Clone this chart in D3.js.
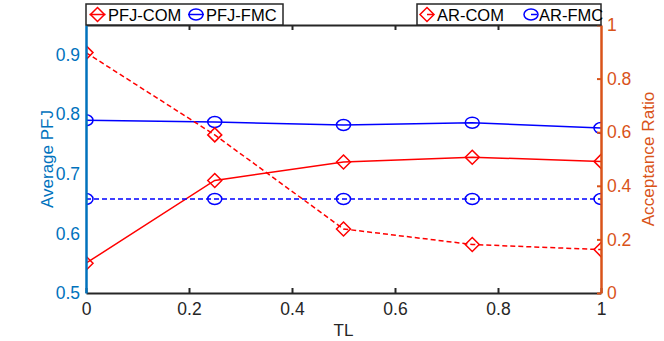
<!DOCTYPE html>
<html>
<head>
<meta charset="utf-8">
<script src="https://cdn.jsdelivr.net/npm/d3@7"></script>
<style>
  body { margin: 0; background: #fff; }
  text { font-family: "Liberation Sans", Arial, sans-serif; }
</style>
</head>
<body>
<script>
// values
var tl = [0, 0.25, 0.5, 0.75, 1];
var pfjCom = [0.550, 0.689, 0.720, 0.728, 0.721];
var pfjFmc = [0.790, 0.787, 0.782, 0.786, 0.777];
var arCom = [0.897, 0.590, 0.239, 0.181, 0.162];
var arFmc = [0.351, 0.351, 0.351, 0.351, 0.351];

var xTicks = [0, 0.2, 0.4, 0.6, 0.8, 1];
var leftTicks = [0.5, 0.6, 0.7, 0.8, 0.9];
var rightTicks = [0, 0.2, 0.4, 0.6, 0.8, 1];

var width = 664, height = 341;
var pLeft = 86, pRight = 601, pTop = 25, pBottom = 293;

var leftColor = "#0072BD", rightColor = "#D95319", axisColor = "#262626";

var svg = d3.select("body").append("svg")
    .attr("width", width)
    .attr("height", height);

var x = d3.scaleLinear().domain([0, 1]).range([pLeft, pRight]);
var yL = d3.scaleLinear().domain([0.5, 0.95]).range([pBottom, pTop]);
var yR = d3.scaleLinear().domain([0, 1]).range([pBottom, pTop]);

svg.append("clipPath").attr("id", "plotclip")
  .append("rect")
    .attr("x", pLeft).attr("y", pTop)
    .attr("width", pRight - pLeft).attr("height", pBottom - pTop);

var series = [
  { name: "PFJ-COM", values: pfjCom, y: yL, color: "red", dash: null, marker: "diamond" },
  { name: "PFJ-FMC", values: pfjFmc, y: yL, color: "blue", dash: null, marker: "circle" },
  { name: "AR-COM", values: arCom, y: yR, color: "red", dash: "5,3", marker: "diamond" },
  { name: "AR-FMC", values: arFmc, y: yR, color: "blue", dash: "5,3", marker: "circle" }
];

function drawMarker(g, type, cx, cy, color) {
  if (type === "diamond") {
    g.append("path")
      .attr("d", "M" + cx + "," + (cy - 7) + "L" + (cx + 7) + "," + cy + "L" + cx + "," + (cy + 7) + "L" + (cx - 7) + "," + cy + "Z")
      .attr("fill", "none").attr("stroke", color).attr("stroke-width", 1.5);
  } else {
    g.append("ellipse")
      .attr("cx", cx).attr("cy", cy).attr("rx", 7).attr("ry", 5.5)
      .attr("fill", "none").attr("stroke", color).attr("stroke-width", 1.5);
  }
}

var plot = svg.append("g").attr("clip-path", "url(#plotclip)");

series.forEach(function(s) {
  var line = d3.line()
    .x(function(d, i) { return x(tl[i]); })
    .y(function(d) { return s.y(d); });
  plot.append("path")
    .datum(s.values)
    .attr("d", line)
    .attr("fill", "none")
    .attr("stroke", s.color)
    .attr("stroke-width", 1.5)
    .attr("stroke-dasharray", s.dash);
  s.values.forEach(function(v, i) {
    drawMarker(plot, s.marker, x(tl[i]), s.y(v), s.color);
  });
});

function fmt(d) { return (d === 0 || d === 1) ? String(d) : d.toFixed(1); }

// bottom and top axes
var xAxisB = d3.axisBottom(x).tickValues(xTicks).tickFormat(fmt).tickSizeInner(-5).tickSizeOuter(0).tickPadding(10);
var gB = svg.append("g").attr("transform", "translate(0," + pBottom + ")").call(xAxisB);
gB.select(".domain").attr("stroke", axisColor).attr("stroke-width", 2);
gB.selectAll(".tick line").attr("stroke", axisColor).attr("stroke-width", 2);
gB.selectAll(".tick text").attr("fill", axisColor).style("font-size", "17.5px").attr("font-family", null);

var xAxisT = d3.axisTop(x).tickValues([0.2, 0.4, 0.6, 0.8]).tickFormat("").tickSizeInner(-5).tickSizeOuter(0);
var gT = svg.append("g").attr("transform", "translate(0," + pTop + ")").call(xAxisT);
gT.select(".domain").attr("stroke", axisColor).attr("stroke-width", 2);
gT.selectAll(".tick line").attr("stroke", axisColor).attr("stroke-width", 2);

// left axis
var yAxisL = d3.axisLeft(yL).tickValues(leftTicks).tickFormat(fmt).tickSize(0).tickPadding(6);
var gL = svg.append("g").attr("transform", "translate(" + pLeft + ",0)").call(yAxisL);
gL.select(".domain").attr("stroke", leftColor).attr("stroke-width", 2.5);
gL.selectAll(".tick text").attr("fill", leftColor).style("font-size", "17.5px").attr("font-family", null);

// right axis
var yAxisR = d3.axisRight(yR).tickValues(rightTicks).tickFormat(fmt).tickSizeInner(-4).tickSizeOuter(0).tickPadding(6);
var gR = svg.append("g").attr("transform", "translate(" + pRight + ",0)").call(yAxisR);
gR.select(".domain").attr("stroke", rightColor).attr("stroke-width", 2.5);
gR.selectAll(".tick line").attr("stroke", rightColor).attr("stroke-width", 2);
gR.selectAll(".tick text").attr("fill", rightColor).style("font-size", "17.5px").attr("font-family", null);

// axis labels
svg.append("text")
    .attr("transform", "translate(53," + ((pTop + pBottom) / 2) + ") rotate(-90)")
    .attr("text-anchor", "middle")
    .attr("fill", leftColor)
    .style("font-size", "17px")
    .text("Average PFJ");

svg.append("text")
    .attr("transform", "translate(654," + ((pTop + pBottom) / 2) + ") rotate(-90)")
    .attr("text-anchor", "middle")
    .attr("fill", rightColor)
    .style("font-size", "17.2px")
    .text("Acceptance Ratio");

svg.append("text")
    .attr("x", (pLeft + pRight) / 2)
    .attr("y", 336)
    .attr("text-anchor", "middle")
    .attr("fill", axisColor)
    .style("font-size", "17px")
    .text("TL");

// legends
function legend(x0, x1, items) {
  var g = svg.append("g");
  g.append("rect")
    .attr("x", x0).attr("y", 4)
    .attr("width", x1 - x0).attr("height", 21)
    .attr("fill", "#fff").attr("stroke", axisColor).attr("stroke-width", 1.5);
  items.forEach(function(it) {
    var s = series[it.idx];
    g.append("line")
      .attr("x1", it.mx - 8).attr("x2", it.mx + 8)
      .attr("y1", 14.5).attr("y2", 14.5)
      .attr("stroke", s.color).attr("stroke-width", 1.5)
      .attr("stroke-dasharray", s.dash ? "0,8,6,2" : null);
    drawMarker(g, s.marker, it.mx, 14.5, s.color);
    g.append("text")
      .attr("x", it.tx).attr("y", 20.5)
      .attr("fill", "#000")
      .style("font-size", "16.5px")
      .text(s.name);
  });
}

legend(86, 283, [{ idx: 0, mx: 97.5, tx: 108 }, { idx: 1, mx: 196, tx: 206 }]);
legend(417, 601, [{ idx: 2, mx: 427, tx: 437 }, { idx: 3, mx: 531, tx: 539 }]);
</script>
</body>
</html>
